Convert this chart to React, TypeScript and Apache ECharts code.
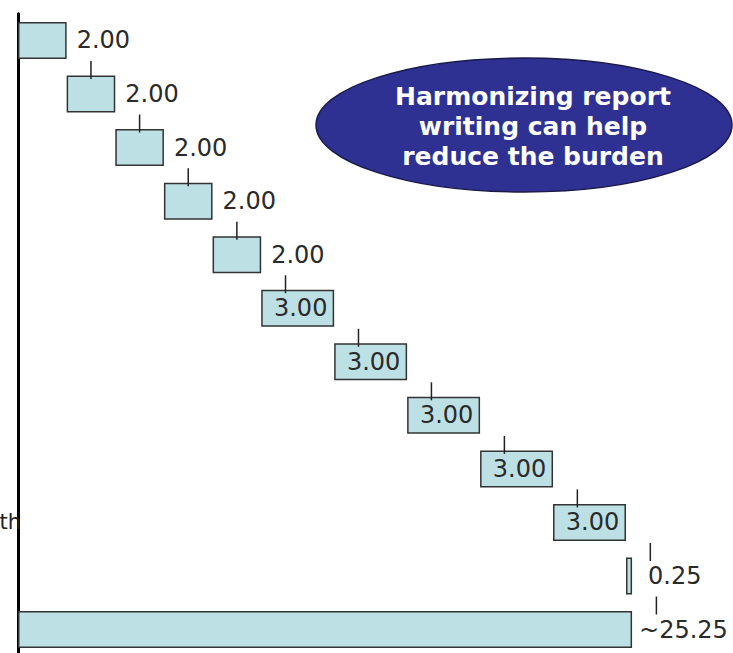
import React, { useEffect, useRef } from "react";
import * as echarts from "echarts";

// Waterfall of reporting burden, one row per step, plus the total row.
const categories = [
  "Step 1", "Step 2", "Step 3", "Step 4", "Step 5", "Step 6",
  "Step 7", "Step 8", "Step 9", "Step 10", "Step 11", "Total",
];
const axisLabels = ["", "", "", "", "", "", "", "", "", "th", "", ""];
const stepValues = [2, 2, 2, 2, 2, 3, 3, 3, 3, 3, 0.25];
const valueLabels = [
  "2.00", "2.00", "2.00", "2.00", "2.00",
  "3.00", "3.00", "3.00", "3.00", "3.00",
  "0.25", "~25.25",
];
const calloutLines = ["Harmonizing report", "writing can help", "reduce the burden"];
const connectorOffset = 1;

const FONT = '"DejaVu Sans", "Liberation Sans", Arial, sans-serif';
const BAR_FILL = "#BDE0E4";
const BAR_EDGE = "#333333";

export default function App() {
  const ref = useRef<HTMLDivElement>(null);

  useEffect(() => {
    if (!ref.current) return;
    const chart = echarts.init(ref.current, undefined, { renderer: "svg" });

    // cumulative starts for each step; total row starts at zero
    const starts: number[] = [];
    let run = 0;
    stepValues.forEach((v) => {
      starts.push(run);
      run += v;
    });
    const total = run;
    const bases = [...starts, 0];
    const amounts = [...stepValues, total];

    // connector ticks sit one unit past the running total of the row above
    const ticks: number[][] = [];
    let cum = 0;
    amounts.forEach((v, i) => {
      if (i > 0) ticks.push([cum + connectorOffset, i]);
      if (i < stepValues.length) cum += v;
    });

    const labelFor = (i: number) => {
      if (i >= 5 && i <= 9) {
        return { show: true, position: "inside", offset: [3, 0] };
      }
      const dist = i === 10 ? 16 : i === 11 ? 7 : 10;
      return { show: true, position: "right", distance: dist };
    };

    chart.setOption({
      animation: false,
      grid: {
        left: 18,
        top: 13.7,
        width: 715,
        height: 642.6,
        containLabel: false,
        outerBoundsMode: "none",
      },
      xAxis: {
        type: "value",
        min: 0,
        max: 29.4,
        show: false,
        splitLine: { show: false },
      },
      yAxis: {
        type: "category",
        data: categories,
        inverse: true,
        axisLine: { show: true, lineStyle: { color: "#000", width: 3 } },
        axisTick: { show: false },
        axisLabel: {
          margin: -3,
          color: "#222",
          fontFamily: FONT,
          fontSize: 21,
          formatter: (_v: string, i: number) => axisLabels[i],
        },
        splitLine: { show: false },
      },
      series: [
        {
          name: "base",
          type: "bar",
          stack: "w",
          barWidth: 37,
          itemStyle: { color: "transparent" },
          emphasis: { disabled: true },
          data: bases,
        },
        {
          name: "value",
          type: "bar",
          stack: "w",
          barWidth: 37,
          itemStyle: { color: BAR_FILL, borderColor: BAR_EDGE, borderWidth: 1.5 },
          label: {
            color: "#2a2a2a",
            fontFamily: FONT,
            fontSize: 24,
            formatter: (p: any) => valueLabels[p.dataIndex],
          },
          data: amounts.map((v, i) => ({ value: v, label: labelFor(i) })),
        },
        {
          name: "connectors",
          type: "custom",
          data: ticks,
          z: 5,
          renderItem: (_params: any, api: any) => {
            const p = api.coord([api.value(0), api.value(1)]);
            return {
              type: "line",
              shape: { x1: p[0], y1: p[1] - 33, x2: p[0], y2: p[1] - 15 },
              style: { stroke: "#222", lineWidth: 1.5 },
            };
          },
        },
      ],
      graphic: [
        {
          type: "ellipse",
          shape: { cx: 524, cy: 125, rx: 208, ry: 67 },
          style: { fill: "#2E3192", stroke: "#1b1b4a", lineWidth: 1.5 },
          z: 10,
        },
        {
          type: "text",
          x: 533,
          y: 126,
          z: 11,
          style: {
            text: calloutLines.join("\n"),
            fill: "#ffffff",
            font: `bold 25px ${FONT}`,
            align: "center",
            verticalAlign: "middle",
            lineHeight: 30,
          },
        },
      ],
    });

    return () => chart.dispose();
  }, []);

  return (
    <div
      ref={ref}
      style={{ position: "fixed", left: 0, top: 0, width: 733, height: 660, background: "#fff" }}
    />
  );
}
